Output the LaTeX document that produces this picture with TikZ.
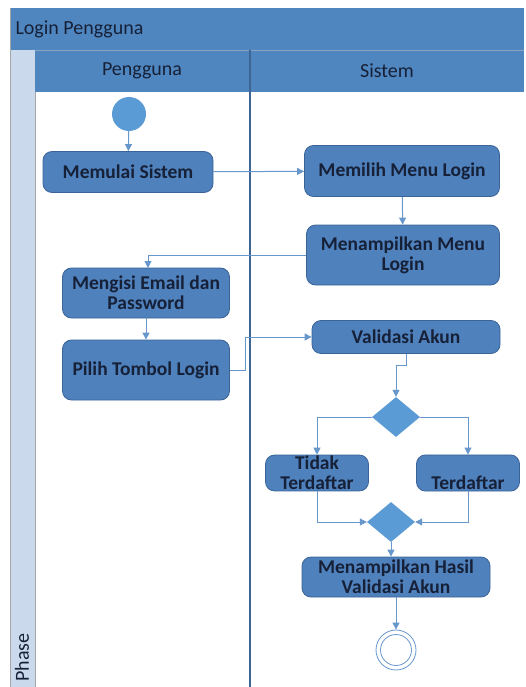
\documentclass[tikz,border=0pt]{standalone}
\usepackage{fontspec}
\setmainfont{Carlito}
\usetikzlibrary{arrows.meta,shapes.geometric}

\definecolor{lanebar}{RGB}{80,134,191}
\definecolor{laneline}{RGB}{62,100,150}
\definecolor{phasebg}{RGB}{203,217,237}
\definecolor{actfill}{RGB}{79,129,189}
\definecolor{actdraw}{RGB}{58,100,152}
\definecolor{markfill}{RGB}{91,155,213}
\definecolor{flowline}{RGB}{104,151,204}
\definecolor{inktext}{RGB}{22,32,55}

\begin{document}
\begin{tikzpicture}[x=1pt, y=-1pt,
    act/.style={rectangle, rounded corners=9pt, fill=actfill, draw=actdraw, line width=0.8pt,
      text=inktext, font=\fontsize{19.5}{20}\selectfont\bfseries, align=center, inner sep=1pt},
    branch/.style={diamond, fill=markfill, draw=none, inner sep=0pt,
      minimum width=48pt, minimum height=40pt},
    flow/.style={draw=flowline, line width=1pt, -{Triangle[length=7pt,width=7pt]}},
    headtext/.style={text=inktext, font=\fontsize{20}{21}\selectfont}]
    \useasboundingbox (0,0) rectangle (526,687);
    \clip (0,0) rectangle (526,687);

    % pool and lanes
    \fill[lanebar] (10,8) rectangle (524,92);
    \draw[laneline!60, line width=0.6pt] (10,50) -- (524,50);
    \fill[phasebg] (10,50) rectangle (35,690);
    \draw[gray!70, line width=0.8pt] (10,8) -- (10,690);
    \draw[gray!70, line width=0.8pt] (35,92) -- (35,690);
    \draw[laneline, line width=1.5pt] (250,50) -- (250,690);
    \node[headtext, anchor=west] (pool) at (12,29) {Login Pengguna};
    \node[headtext] (lanea) at (142,71) {Pengguna};
    \node[headtext] (laneb) at (387,71) {Sistem};
    \node[headtext, rotate=90, anchor=west] (phase) at (22,685) {Phase};

    % activities
    \node[circle, fill=markfill, minimum size=34pt, inner sep=0pt] (start) at (129,114) {};
    \node[act, minimum width=170pt, minimum height=41pt] (mulai) at (128,172) {Memulai Sistem};
    \node[act, minimum width=195pt, minimum height=51pt] (pilihmenu) at (402,171) {Memilih Menu Login};
    \node[act, minimum width=193pt, minimum height=60pt] (tampilmenu) at (403,255) {Menampilkan Menu\\Login};
    \node[act, minimum width=167pt, minimum height=50pt] (isi) at (146,293) {Mengisi Email dan\\Password};
    \node[act, minimum width=167pt, minimum height=60pt] (tombol) at (146,370) {Pilih Tombol Login};
    \node[act, minimum width=188pt, minimum height=33pt] (validasi) at (406,337) {Validasi Akun};
    \node[branch] (cek) at (396,417) {};
    \node[act, minimum width=103pt, minimum height=33pt] (tidak) at (317,473) {Tidak\\Terdaftar};
    \node[act, minimum width=103pt, minimum height=33pt] (terdaftar) at (468,473) {\strut\\Terdaftar};
    \node[branch] (gabung) at (391,522) {};
    \node[act, minimum width=188pt, minimum height=40pt] (hasil) at (396,577) {Menampilkan Hasil\\Validasi Akun};
    \node[circle, draw=flowline, line width=0.8pt, minimum size=40pt, inner sep=0pt] (end) at (396,650) {};
    \draw[flowline, line width=0.8pt] (end) circle [radius=15.5pt];

    % flows
    \draw[flow] (start) -- (mulai);
    \draw[flow] (mulai) -- (pilihmenu);
    \draw[flow] (pilihmenu) -- (tampilmenu);
    \draw[flow] (tampilmenu.west) -- (148,255) -- (148,268);
    \draw[flow] (isi) -- (tombol);
    \draw[flow] (tombol.east) -- (245,370) -- (245,337) -- (validasi.west);
    \draw[flow] (validasi.south) -- (406,365) -- (396,365) -- (cek.north);
    \draw[flow] (cek.west) -| (tidak.north);
    \draw[flow] (cek.east) -| (terdaftar.north);
    \draw[flow] (tidak.south) |- (gabung.west);
    \draw[flow] (terdaftar.south) |- (gabung.east);
    \draw[flow] (gabung.south) -- (gabung.south |- hasil.north);
    \draw[flow] (hasil.south) -- (end.north);
  \end{tikzpicture}
\end{document}
